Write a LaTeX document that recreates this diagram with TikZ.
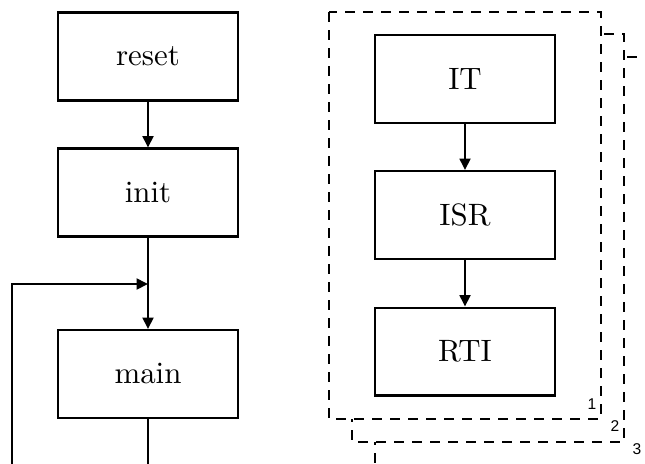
\documentclass[tikz,border=0pt]{standalone}
\usepackage{fontspec}
\newfontfamily\tagfont{Liberation Sans}
\usetikzlibrary{arrows.meta}
\tikzset{
  block/.style={draw, line width=0.8pt, minimum width=60pt, minimum height=29.2pt,
    inner sep=0pt, fill=white, font=\fontsize{10.3}{12}\selectfont},
  conn/.style={line width=0.8pt, -{Triangle[length=3.8pt,width=3.6pt]}},
  plain/.style={line width=0.8pt},
  frame/.style={draw, dash pattern=on 3.2pt off 2.8pt, line width=0.65pt, fill=white},
  tag/.style={inner sep=0pt, font=\tagfont\fontsize{5.2}{6}\selectfont}
}
\begin{document}
\begin{tikzpicture}[x=0.3333pt,y=-0.3333pt]
  \useasboundingbox (0,0) rectangle (645,463);
  \clip (0,0) rectangle (645,463);

  % stacked interrupt frames, back to front
  \draw[frame] (375,57) rectangle (647,465);
  \node[tag] (t3) at (637,449) {3};
  \draw[frame] (352,34) rectangle (624,442);
  \node[tag] (t2) at (615,426) {2};
  \draw[frame] (329,12) rectangle (601,419);
  \node[tag] (t1) at (592,404) {1};

  % main program flow
  \node[block] (reset) at (148,56.5) {reset};
  \node[block] (init)  at (148,192.5) {init};
  \node[block] (main)  at (148,374) {main};

  % interrupt handling
  \node[block] (it)  at (465,79) {IT};
  \node[block] (isr) at (465,215) {ISR};
  \node[block] (rti) at (465,351.5) {RTI};

  \draw[conn] (reset) -- (init);
  \draw[conn] (init) -- (main);
  \draw[conn] (it) -- (isr);
  \draw[conn] (isr) -- (rti);

  % main loop back to the top
  \coordinate (merge) at (148,284);
  \coordinate (mainfoot) at (148,475);
  \coordinate (loopfoot) at (12,475);
  \draw[plain] (main.south) -- (mainfoot);
  \draw[conn] (loopfoot) |- (merge);
\end{tikzpicture}
\end{document}
